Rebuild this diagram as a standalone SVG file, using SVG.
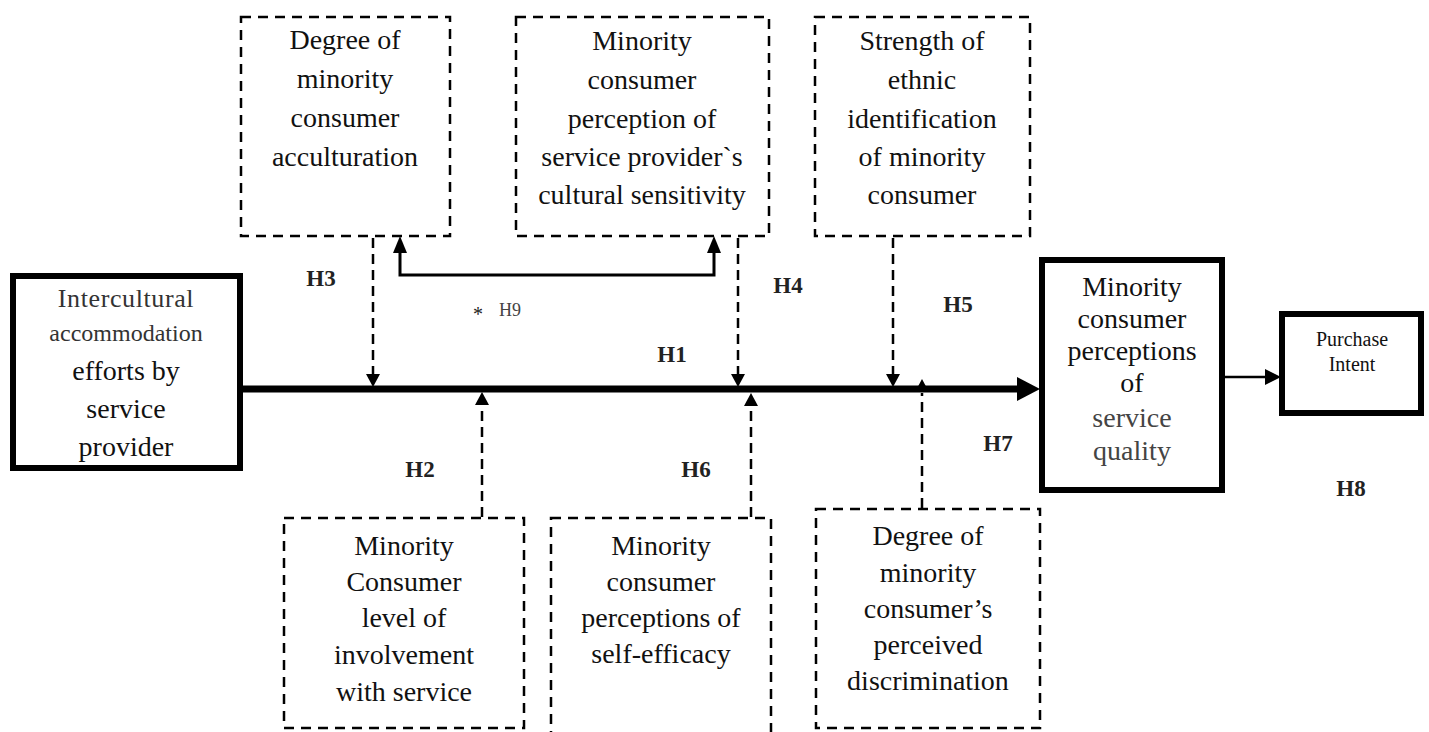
<svg xmlns="http://www.w3.org/2000/svg" width="1429" height="732" viewBox="0 0 1429 732">
<style>
.bg{fill:#fff}
.dbox{fill:none;stroke:#000;stroke-width:2.5;stroke-dasharray:10 7}
.sbox{fill:none;stroke:#000;stroke-width:6}
.t{font-family:"Liberation Serif","Times New Roman",serif;font-size:28px;fill:#111;text-anchor:middle}
.h{font-family:"Liberation Serif","Times New Roman",serif;font-size:23px;font-weight:bold;fill:#222;text-anchor:middle}
.dl{fill:none;stroke:#000;stroke-width:2.5;stroke-dasharray:10 6}
.sl{fill:none;stroke:#000;stroke-width:3}
.ah{fill:#000}
</style>
<rect class="bg" x="0" y="0" width="1429" height="732"/>

<g id="connectors">
  <line x1="243" y1="389" x2="1020" y2="389" stroke="#000" stroke-width="7"/>
  <polygon class="ah" points="1040,389 1017,377 1017,401"/>
  <line x1="1225" y1="377" x2="1268" y2="377" stroke="#000" stroke-width="2.5"/>
  <polygon class="ah" points="1281,377 1265,369 1265,385"/>
  <line class="dl" x1="373" y1="238" x2="373" y2="376"/>
  <polygon class="ah" points="373,387 366,374 380,374"/>
  <line class="dl" x1="738" y1="238" x2="738" y2="376"/>
  <polygon class="ah" points="738,387 731,374 745,374"/>
  <line class="dl" x1="893" y1="238" x2="893" y2="376"/>
  <polygon class="ah" points="893,387 886,374 900,374"/>
  <line class="dl" x1="482" y1="517" x2="482" y2="403"/>
  <polygon class="ah" points="482,392 475,405 489,405"/>
  <line class="dl" x1="751" y1="517" x2="751" y2="404"/>
  <polygon class="ah" points="751,393 744,406 758,406"/>
  <line class="dl" x1="922" y1="508" x2="922" y2="393"/>
  <polygon class="ah" points="922,379 915,392 929,392"/>
  <polyline class="sl" points="400,252 400,275 714,275 714,252"/>
  <polygon class="ah" points="400,236 393,253 407,253"/>
  <polygon class="ah" points="714,236 707,253 721,253"/>
</g>

<g id="n-acculturation">
  <rect class="dbox" x="241" y="17" width="209" height="219"/>
  <text class="t" x="345" y="49">Degree of</text>
  <text class="t" x="345" y="88">minority</text>
  <text class="t" x="345" y="127">consumer</text>
  <text class="t" x="345" y="166">acculturation</text>
</g>

<g id="n-sensitivity">
  <rect class="dbox" x="516" y="17" width="253" height="219"/>
  <text class="t" x="642" y="50">Minority</text>
  <text class="t" x="642" y="89">consumer</text>
  <text class="t" x="642" y="128">perception of</text>
  <text class="t" x="642" y="166">service provider`s</text>
  <text class="t" x="642" y="204">cultural sensitivity</text>
</g>

<g id="n-ethnic">
  <rect class="dbox" x="815" y="17" width="215" height="219"/>
  <text class="t" x="922" y="50">Strength of</text>
  <text class="t" x="922" y="89">ethnic</text>
  <text class="t" x="922" y="128">identification</text>
  <text class="t" x="922" y="166">of minority</text>
  <text class="t" x="922" y="204">consumer</text>
</g>

<g id="n-intercultural">
  <rect class="sbox" x="13" y="276" width="227" height="192"/>
  <text class="t" x="126" y="307" style="font-size:26px;letter-spacing:0.6px;fill:#333">Intercultural</text>
  <text class="t" x="126" y="341" style="font-size:24px;fill:#333">accommodation</text>
  <text class="t" x="126" y="380">efforts by</text>
  <text class="t" x="126" y="418">service</text>
  <text class="t" x="126" y="456">provider</text>
</g>

<g id="n-quality">
  <rect class="sbox" x="1042" y="260" width="180" height="230"/>
  <text class="t" x="1132" y="296">Minority</text>
  <text class="t" x="1132" y="328">consumer</text>
  <text class="t" x="1132" y="360">perceptions</text>
  <text class="t" x="1132" y="392">of</text>
  <text class="t" x="1132" y="427" style="fill:#444">service</text>
  <text class="t" x="1132" y="460" style="fill:#444">quality</text>
</g>

<g id="n-purchase">
  <rect class="sbox" x="1282" y="314" width="139" height="99"/>
  <text class="t" x="1352" y="346" style="font-size:20px">Purchase</text>
  <text class="t" x="1352" y="371" style="font-size:20px">Intent</text>
</g>

<g id="n-involvement">
  <rect class="dbox" x="284" y="518" width="240" height="210"/>
  <text class="t" x="404" y="555">Minority</text>
  <text class="t" x="404" y="591">Consumer</text>
  <text class="t" x="404" y="627">level of</text>
  <text class="t" x="404" y="664">involvement</text>
  <text class="t" x="404" y="701">with service</text>
</g>

<g id="n-selfefficacy">
  <rect class="dbox" x="551" y="518" width="220" height="240"/>
  <text class="t" x="661" y="555">Minority</text>
  <text class="t" x="661" y="591">consumer</text>
  <text class="t" x="661" y="627">perceptions of</text>
  <text class="t" x="661" y="663">self-efficacy</text>
</g>

<g id="n-discrimination">
  <rect class="dbox" x="816" y="509" width="224" height="219"/>
  <text class="t" x="928" y="545">Degree of</text>
  <text class="t" x="928" y="582">minority</text>
  <text class="t" x="928" y="618">consumer’s</text>
  <text class="t" x="928" y="654">perceived</text>
  <text class="t" x="928" y="690">discrimination</text>
</g>

<g id="labels">
  <text class="h" x="321" y="286">H3</text>
  <text class="h" x="478" y="321" style="font-weight:normal;font-size:20px">*</text>
  <text class="h" x="510" y="316" style="font-weight:normal;font-size:18px;fill:#444">H9</text>
  <text class="h" x="672" y="362">H1</text>
  <text class="h" x="788" y="293">H4</text>
  <text class="h" x="958" y="312">H5</text>
  <text class="h" x="420" y="477">H2</text>
  <text class="h" x="696" y="477">H6</text>
  <text class="h" x="998" y="451">H7</text>
  <text class="h" x="1351" y="496">H8</text>
</g>
</svg>
